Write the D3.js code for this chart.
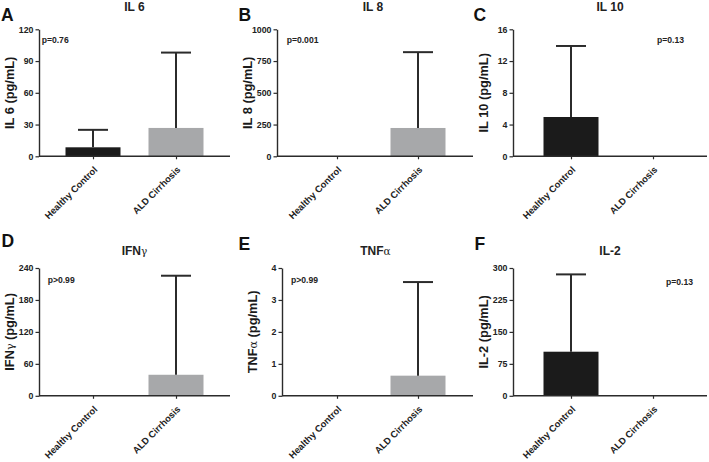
<!DOCTYPE html>
<html>
<head>
<meta charset="utf-8">
<script src="https://cdn.jsdelivr.net/npm/d3@7"></script>
<style>
  html, body { margin: 0; padding: 0; background: #ffffff; }
  svg { display: block; font-family: "Liberation Sans", Arial, Helvetica, sans-serif; }
</style>
</head>
<body>
<svg id="chart" width="709" height="462"></svg>
<script>
// ---------- data ----------
const groups = ["Healthy Control", "ALD Cirrhosis"];
const panelLetters = ["A", "B", "C", "D", "E", "F"];
const titleMain = ["IL 6", "IL 8", "IL 10", "IFN", "TNF", "IL-2"];
const titleGreek = ["", "", "", "\u03b3", "\u03b1", ""];
const meanValues = [
  [8.5, 26.8],
  [0, 223],
  [4.95, 0],
  [0, 39.5],
  [0, 0.63],
  [103.5, 0]
];
const errorTops = [
  [25, 98],
  [null, 820],
  [13.9, null],
  [null, 225.5],
  [null, 3.56],
  [285, null]
];
const yMaxValues = [120, 1000, 16, 240, 4, 300];
const yTickValues = [
  [0, 30, 60, 90, 120],
  [0, 250, 500, 750, 1000],
  [0, 4, 8, 12, 16],
  [0, 60, 120, 180, 240],
  [0, 1, 2, 3, 4],
  [0, 75, 150, 225, 300]
];
const pLabels = ["p=0.76", "p=0.001", "p=0.13", "p>0.99", "p>0.99", "p=0.13"];

// ---------- layout ----------
const colTicks = [[93, 176], [337, 418], [571, 653]];
const colRight = [230, 473, 707];
const rowTop = [29.3, 268];
const rowBottom = [156.3, 395.8];
const yAxisX = [39, 277, 513, 39, 282, 513];
const letterPos = [[1, 20.7], [238.5, 20.7], [473.5, 20.7], [1.5, 246.5], [238.5, 250], [474.5, 249.5]];
const titleY = [10.7, 10.7, 10.7, 254.5, 254.5, 254.5];
const pPos = [[41.7, 43], [286.7, 43.3], [657, 42.7], [47.7, 283.3], [291, 283.3], [666, 284.5]];
const barColors = ["#1b1b1b", "#a7a8aa"];
const inkColor = "#2b2b2b";
const barWidth = 55;
const capWidth = 30;

const svg = d3.select("#chart");

d3.range(6).forEach(i => {
  const col = i % 3, row = Math.floor(i / 3);
  const left = yAxisX[i], right = colRight[col];
  const top = rowTop[row], bottom = rowBottom[row];
  const g = svg.append("g");

  const x = d3.scalePoint().domain(groups).range(colTicks[col]);
  const y = d3.scaleLinear().domain([0, yMaxValues[i]]).range([bottom, top]);

  // bars
  g.selectAll("rect.bar").data(groups).enter().append("rect")
    .attr("x", d => x(d) - barWidth / 2)
    .attr("width", barWidth)
    .attr("y", (d, j) => y(meanValues[i][j]))
    .attr("height", (d, j) => y(0) - y(meanValues[i][j]))
    .attr("fill", (d, j) => barColors[j]);

  // error bars (upper only)
  const errs = groups.map((d, j) => ({ g: d, m: meanValues[i][j], e: errorTops[i][j] })).filter(o => o.e != null);
  g.selectAll("line.err").data(errs).enter().append("line")
    .attr("x1", d => x(d.g)).attr("x2", d => x(d.g))
    .attr("y1", d => y(d.m)).attr("y2", d => y(d.e))
    .attr("stroke", inkColor).attr("stroke-width", 2);
  g.selectAll("line.cap").data(errs).enter().append("line")
    .attr("x1", d => x(d.g) - capWidth / 2).attr("x2", d => x(d.g) + capWidth / 2)
    .attr("y1", d => y(d.e)).attr("y2", d => y(d.e))
    .attr("stroke", inkColor).attr("stroke-width", 2);

  // y axis
  const yAxis = d3.axisLeft(y).tickValues(yTickValues[i]).tickFormat(d3.format("d"))
    .tickSize(3.5).tickSizeOuter(0).tickPadding(2);
  const ya = g.append("g").attr("transform", `translate(${left},0)`).call(yAxis);
  ya.select(".domain").attr("stroke", inkColor).attr("stroke-width", 1.4);
  ya.selectAll(".tick line").attr("stroke", inkColor).attr("stroke-width", 1.2);
  ya.selectAll(".tick text").attr("fill", "#222").attr("font-size", 8.8).attr("font-weight", "bold")
    .attr("font-family", "Liberation Sans, Arial, sans-serif");

  // x axis
  g.append("line").attr("x1", left).attr("x2", right).attr("y1", bottom).attr("y2", bottom)
    .attr("stroke", inkColor).attr("stroke-width", 1.4);
  const xAxis = d3.axisBottom(x).tickSize(3).tickSizeOuter(0).tickFormat("");
  const xa = g.append("g").attr("transform", `translate(0,${bottom})`).call(xAxis);
  xa.select(".domain").remove();
  xa.selectAll(".tick line").attr("stroke", inkColor).attr("stroke-width", 1.2);

  // rotated category labels
  g.selectAll("text.xl").data(groups).enter().append("text")
    .attr("transform", d => `translate(${x(d) + 5},${bottom + 14}) rotate(-45)`)
    .attr("text-anchor", "end")
    .attr("font-size", 9.4).attr("font-weight", "bold").attr("fill", "#222")
    .text(d => d);

  // title
  const tt = g.append("text").attr("x", (left + right) / 2 - (col === 1 ? 2 : 0)).attr("y", titleY[i])
    .attr("text-anchor", "middle").attr("font-size", 12).attr("font-weight", "bold").attr("fill", "#222");
  tt.append("tspan").text(titleMain[i]);
  if (titleGreek[i]) tt.append("tspan").attr("font-weight", "normal").attr("font-family", "DejaVu Serif, serif")
    .attr("font-size", 10.5).text(titleGreek[i]);

  // y axis title
  const yt = g.append("text")
    .attr("transform", `translate(${left - 30},${(top + bottom) / 2}) rotate(-90)`)
    .attr("text-anchor", "middle").attr("dy", "0.36em")
    .attr("font-size", 12.8).attr("font-weight", "bold").attr("fill", "#1a1a1a");
  yt.append("tspan").text(titleMain[i]);
  if (titleGreek[i]) yt.append("tspan").attr("font-weight", "normal").attr("font-family", "DejaVu Serif, serif")
    .attr("font-size", 11).text(titleGreek[i]);
  yt.append("tspan").text(" (pg/mL)");

  // panel letter
  g.append("text").attr("x", letterPos[i][0]).attr("y", letterPos[i][1])
    .attr("font-size", 17.5).attr("font-weight", "bold").attr("fill", "#111")
    .text(panelLetters[i]);

  // p value
  g.append("text").attr("x", pPos[i][0]).attr("y", pPos[i][1])
    .attr("font-size", 8.6).attr("font-weight", "bold").attr("fill", "#222")
    .text(pLabels[i]);
});
</script>
</body>
</html>
